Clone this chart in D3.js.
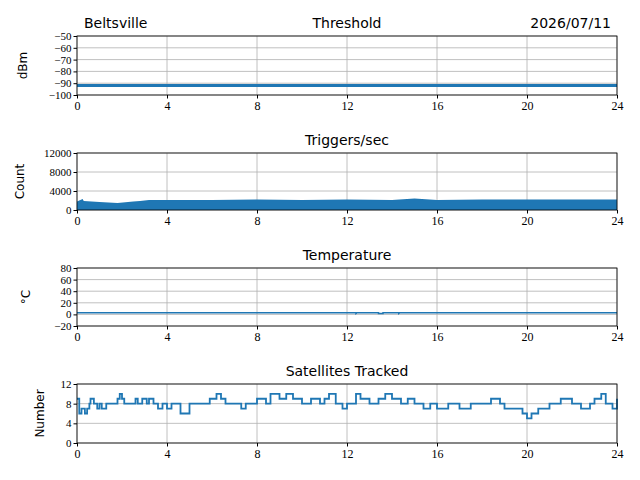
<!DOCTYPE html>
<html><head><meta charset="utf-8">
<script src="https://cdn.jsdelivr.net/npm/d3@7"></script>
<style>
body{margin:0;background:#fff}
.tick text{font-family:"Liberation Serif",serif;font-size:11px}
.xt .tick text{font-size:12px}
.lbl{font-family:"DejaVu Sans",sans-serif;font-size:12px}
.ttl{font-family:"DejaVu Sans",sans-serif;font-size:14px}
</style></head><body>
<script>
var site = 'Beltsville', date = '2026/07/11';
var hourTicks = [0, 4, 8, 12, 16, 20, 24];

// threshold (dBm)
var threshHours = [0, 24];
var threshVals = [-92, -92];

// triggers/sec envelope: hour, low, high
var trigHours = [0, 0.25, 0.3, 1, 1.8, 2.5, 2.8, 3.2, 4, 6, 8, 10, 12, 14, 15, 16, 18, 20, 22, 24];
var trigLow =   [0, 0, 0, 0, 0, 0, 0, 0, 0, 0, 0, 0, 0, 0, 0, 0, 0, 0, 0, 0];
var trigHigh =  [1800, 2300, 1900, 1700, 1500, 1800, 1900, 2100, 2100, 2100, 2200, 2100, 2200, 2100, 2400, 2100, 2200, 2200, 2200, 2200];

// temperature (C)
var tempHours = [0, 12.4, 12.4, 12.45, 13.4, 13.4, 13.6, 13.6, 14.3, 14.3, 14.35, 24];
var tempVals =  [3, 3, 1.5, 3, 3, 1.5, 1.5, 3, 3, 1.5, 3, 3];

// satellites tracked (step changes)
var satHours = [0, 0.1, 0.2, 0.35, 0.45, 0.55, 0.6, 0.75, 0.9, 1.0, 1.1, 1.3, 1.5, 1.8, 1.9, 2.0, 2.1, 2.3, 2.6, 2.7, 2.9, 3.1, 3.2, 3.4, 3.6, 3.8, 4.0, 4.2, 4.6, 5.0, 5.5, 5.9, 6.2, 6.4, 6.6, 7.0, 7.3, 7.5, 8.0, 8.4, 8.6, 9.0, 9.3, 9.6, 10.0, 10.4, 10.8, 11.0, 11.2, 11.5, 11.8, 12.0, 12.4, 12.6, 13.0, 13.4, 13.7, 14.0, 14.4, 14.7, 15.0, 15.4, 15.7, 16.0, 16.5, 17.0, 17.5, 18.0, 18.4, 18.8, 19.0, 19.5, 19.8, 20.0, 20.2, 20.5, 21.0, 21.5, 22.0, 22.4, 22.8, 23.0, 23.3, 23.5, 23.8, 24];
var satVals =  [9, 6, 7, 6, 7, 8, 9, 8, 7, 8, 7, 8, 8, 9, 10, 9, 8, 8, 9, 8, 9, 8, 9, 8, 7, 8, 7, 8, 6, 8, 8, 9, 10, 9, 8, 8, 7, 8, 9, 8, 10, 9, 10, 9, 8, 9, 8, 9, 10, 8, 7, 8, 10, 9, 8, 9, 10, 9, 8, 9, 8, 7, 8, 7, 8, 7, 8, 8, 9, 8, 7, 7, 6, 5, 6, 7, 8, 9, 8, 7, 8, 9, 10, 8, 7, 9];

var W = 640, H = 480, x0 = 77, x1 = 617;
var svg = d3.select('body').append('svg').attr('width', W).attr('height', H);
var x = d3.scaleLinear().domain([0, 24]).range([x0, x1]);
var blue = '#1f77b4';

function panel(top, bottom, dom, ticks, ylabel, labelX, title) {
  var y = d3.scaleLinear().domain(dom).range([bottom, top]);
  var g = svg.append('g');
  g.append('g').selectAll('line').data(hourTicks).join('line')
    .attr('x1', x).attr('x2', x).attr('y1', top).attr('y2', bottom)
    .attr('stroke', '#b0b0b0').attr('stroke-width', 0.8);
  g.append('g').selectAll('line').data(ticks).join('line')
    .attr('x1', x0).attr('x2', x1).attr('y1', y).attr('y2', y)
    .attr('stroke', '#b0b0b0').attr('stroke-width', 0.8);
  g.append('g').attr('class', 'xt').attr('transform', 'translate(0,' + bottom + ')')
    .call(d3.axisBottom(x).tickValues(hourTicks).tickSize(3.5).tickPadding(3).tickFormat(d3.format('d')));
  g.append('g').attr('transform', 'translate(' + x0 + ',0)')
    .call(d3.axisLeft(y).tickValues(ticks).tickSize(3.5).tickPadding(2).tickFormat(function (d) { return d < 0 ? '\u2212' + (-d) : d; }));
  g.selectAll('.domain').remove();
  g.append('rect').attr('x', x0).attr('y', top).attr('width', x1 - x0).attr('height', bottom - top)
    .attr('fill', 'none').attr('stroke', '#000').attr('stroke-width', 0.8);
  g.append('text').attr('class', 'lbl').attr('transform', 'translate(' + labelX + ',' + (top + bottom) / 2 + ') rotate(-90)')
    .attr('text-anchor', 'middle').text(ylabel);
  g.append('text').attr('class', 'ttl').attr('x', (x0 + x1) / 2).attr('y', top - 8)
    .attr('text-anchor', 'middle').text(title);
  return {g: g, y: y};
}

var p1 = panel(36, 95, [-100, -50], [-100, -90, -80, -70, -60, -50], 'dBm', 27, 'Threshold');
p1.g.insert('path', 'rect').datum(threshHours.map(function (h, i) { return [h, threshVals[i]]; }))
  .attr('d', d3.line().x(function (d) { return x(d[0]); }).y(function (d) { return p1.y(d[1]); }))
  .attr('stroke', blue).attr('stroke-width', 3).attr('fill', 'none');
svg.append('text').attr('class', 'ttl').attr('x', x0 + 7).attr('y', 28).text(site);
svg.append('text').attr('class', 'ttl').attr('x', x1 - 6).attr('y', 28).attr('text-anchor', 'end').text(date);

var p2 = panel(153, 210, [0, 12000], [0, 4000, 8000, 12000], 'Count', 24, 'Triggers/sec');
p2.g.insert('path', 'rect').datum(trigHours.map(function (h, i) { return [h, trigLow[i], trigHigh[i]]; }))
  .attr('d', d3.area().x(function (d) { return x(d[0]); }).y0(function (d) { return p2.y(d[1]); }).y1(function (d) { return p2.y(d[2]); }))
  .attr('fill', blue);

var p3 = panel(268, 326, [-20, 80], [-20, 0, 20, 40, 60, 80], '\u00b0C', 30, 'Temperature');
p3.g.insert('path', 'rect').datum(tempHours.map(function (h, i) { return [h, tempVals[i]]; }))
  .attr('d', d3.line().x(function (d) { return x(d[0]); }).y(function (d) { return p3.y(d[1]); }))
  .attr('stroke', blue).attr('stroke-width', 1.5).attr('fill', 'none');

var p4 = panel(384, 443, [0, 12], [0, 4, 8, 12], 'Number', 44, 'Satellites Tracked');
p4.g.insert('path', 'rect').datum(satHours.map(function (h, i) { return [h, satVals[i]]; }))
  .attr('d', d3.line().curve(d3.curveStepAfter).x(function (d) { return x(d[0]); }).y(function (d) { return p4.y(d[1]); }))
  .attr('stroke', blue).attr('stroke-width', 1.8).attr('fill', 'none');
</script>
</body></html>
